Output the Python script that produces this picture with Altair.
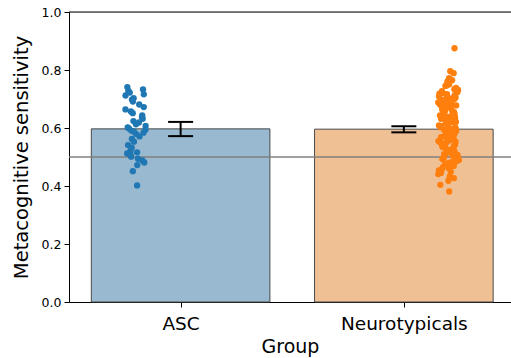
import altair as alt
import numpy as np
import pandas as pd

# Group labels and their summary statistics
groups = ["ASC", "Neurotypicals"]
bar_means = [0.597, 0.596]
ci_low = [0.572, 0.585]
ci_high = [0.621, 0.606]
chance_level = 0.5

# Individual participant scores
asc_values = [
    0.741, 0.733, 0.728, 0.722, 0.716, 0.712, 0.703, 0.698, 0.691, 0.681,
    0.672, 0.664, 0.657, 0.651, 0.643, 0.638, 0.632, 0.624, 0.619, 0.613,
    0.607, 0.602, 0.598, 0.594, 0.591, 0.587, 0.584, 0.579, 0.571, 0.562,
    0.553, 0.541, 0.532, 0.521, 0.516, 0.512, 0.507, 0.501, 0.494, 0.488,
    0.481, 0.472, 0.451, 0.402,
]
nt_values = [
    0.875, 0.796, 0.789, 0.772, 0.765, 0.761, 0.756, 0.751, 0.747, 0.745, 0.738, 0.734, 0.731, 0.727, 0.723, 0.721,
    0.718, 0.717, 0.713, 0.712, 0.709, 0.706, 0.705, 0.702, 0.700, 0.698, 0.696, 0.695, 0.691, 0.689, 0.688, 0.684,
    0.682, 0.680, 0.678, 0.677, 0.673, 0.671, 0.669, 0.668, 0.664, 0.661, 0.660, 0.658, 0.655, 0.654, 0.650, 0.648,
    0.646, 0.643, 0.642, 0.639, 0.636, 0.634, 0.632, 0.630, 0.627, 0.625, 0.622, 0.620, 0.619, 0.616, 0.613, 0.611,
    0.609, 0.606, 0.604, 0.603, 0.600, 0.598, 0.596, 0.593, 0.591, 0.590, 0.587, 0.584, 0.582, 0.580, 0.578, 0.575,
    0.573, 0.571, 0.568, 0.566, 0.565, 0.562, 0.559, 0.557, 0.555, 0.552, 0.550, 0.548, 0.545, 0.543, 0.541, 0.538,
    0.536, 0.534, 0.531, 0.529, 0.527, 0.524, 0.522, 0.520, 0.517, 0.515, 0.513, 0.510, 0.507, 0.505, 0.503, 0.500,
    0.498, 0.495, 0.493, 0.490, 0.487, 0.485, 0.482, 0.479, 0.476, 0.472, 0.469, 0.465, 0.461, 0.458, 0.454, 0.449,
    0.445, 0.441, 0.433, 0.427, 0.418, 0.404, 0.381,
]

bar_fill = ["#3274a1", "#e1812c"]
point_color = ["#1f77b4", "#ff7f0e"]
FONT = "DejaVu Sans"

summary = pd.DataFrame({
    "group": groups,
    "pos": [0.0, 1.0],
    "mean": bar_means,
    "lo": ci_low,
    "hi": ci_high,
})
summary["left"] = summary["pos"] - 0.4
summary["right"] = summary["pos"] + 0.4
summary["capl"] = summary["pos"] - 0.056
summary["capr"] = summary["pos"] + 0.056


def strip(values, center):
    # deterministic hash jitter so the strip is reproducible
    idx = np.arange(len(values))
    h = np.abs(np.sin(idx * 12.9898 + center * 7.233) * 43758.5453) % 1.0
    return center + (h - 0.5) * 0.095


points = pd.concat([
    pd.DataFrame({"group": "ASC", "value": asc_values, "x": strip(asc_values, -0.204)}),
    pd.DataFrame({"group": "Neurotypicals", "value": nt_values, "x": strip(nt_values, 1.2)}),
])

xscale = alt.Scale(domain=[-0.5, 1.48], nice=False, zero=False)
yscale = alt.Scale(domain=[0, 1], nice=False)

x_axis = alt.Axis(
    values=[0, 1], labelExpr="datum.value == 0 ? 'ASC' : 'Neurotypicals'",
    title="Group", grid=False, tickSize=5, labelPadding=7, titlePadding=5,
    labelFontSize=18.5, titleFontSize=19, labelFont=FONT, titleFont=FONT,
    titleFontWeight="normal", labelColor="black", titleColor="black",
    domainColor="black", tickColor="black", labelFlush=False,
)
y_axis = alt.Axis(
    values=[0, 0.2, 0.4, 0.6, 0.8, 1.0], format=".1f",
    title="Metacognitive sensitivity", grid=False, tickSize=5, labelPadding=3,
    titlePadding=10, labelFontSize=12.5, titleFontSize=19.5, labelFont=FONT,
    titleFont=FONT, titleFontWeight="normal", labelColor="black",
    titleColor="black", domainColor="black", tickColor="black",
)

color_scale = alt.Scale(domain=groups, range=bar_fill)

bars = alt.Chart(summary).mark_rect(
    fillOpacity=0.5, stroke="#4a4a4a", strokeWidth=1
).encode(
    x=alt.X("left:Q", scale=xscale, axis=x_axis),
    x2="right:Q",
    y=alt.Y("mean:Q", scale=yscale, axis=y_axis),
    y2=alt.datum(0),
    fill=alt.Fill("group:N", scale=color_scale, legend=None),
)

chance = alt.Chart(pd.DataFrame({"v": [chance_level]})).mark_rule(
    color="#808080", strokeWidth=1.6
).encode(y=alt.Y("v:Q", scale=yscale), x=alt.value(0), x2=alt.value(442))

top_spine = alt.Chart(pd.DataFrame({"v": [1.0]})).mark_rule(
    color="black", strokeWidth=1
).encode(y=alt.Y("v:Q", scale=yscale), x=alt.value(0), x2=alt.value(442))

dots = alt.Chart(points).mark_circle(size=40, opacity=1).encode(
    x=alt.X("x:Q", scale=xscale),
    y=alt.Y("value:Q", scale=yscale),
    color=alt.Color("group:N", scale=alt.Scale(domain=groups, range=point_color), legend=None),
)

err = alt.Chart(summary).mark_rule(color="black", strokeWidth=2).encode(
    x=alt.X("pos:Q", scale=xscale), y=alt.Y("lo:Q", scale=yscale), y2="hi:Q"
)
cap_lo = alt.Chart(summary).mark_rule(color="black", strokeWidth=2).encode(
    x=alt.X("capl:Q", scale=xscale), x2="capr:Q", y=alt.Y("lo:Q", scale=yscale)
)
cap_hi = alt.Chart(summary).mark_rule(color="black", strokeWidth=2).encode(
    x=alt.X("capl:Q", scale=xscale), x2="capr:Q", y=alt.Y("hi:Q", scale=yscale)
)

chart = alt.layer(bars, chance, dots, err, cap_lo, cap_hi, top_spine).properties(
    width=442, height=290,
    autosize=alt.AutoSizeParams(type="none"),
    padding={"left": 69, "top": 12, "right": 0, "bottom": 56},
).configure_view(stroke=None).configure(background="white")

chart.save("out.html", embed_options={"renderer": "svg", "actions": False})
